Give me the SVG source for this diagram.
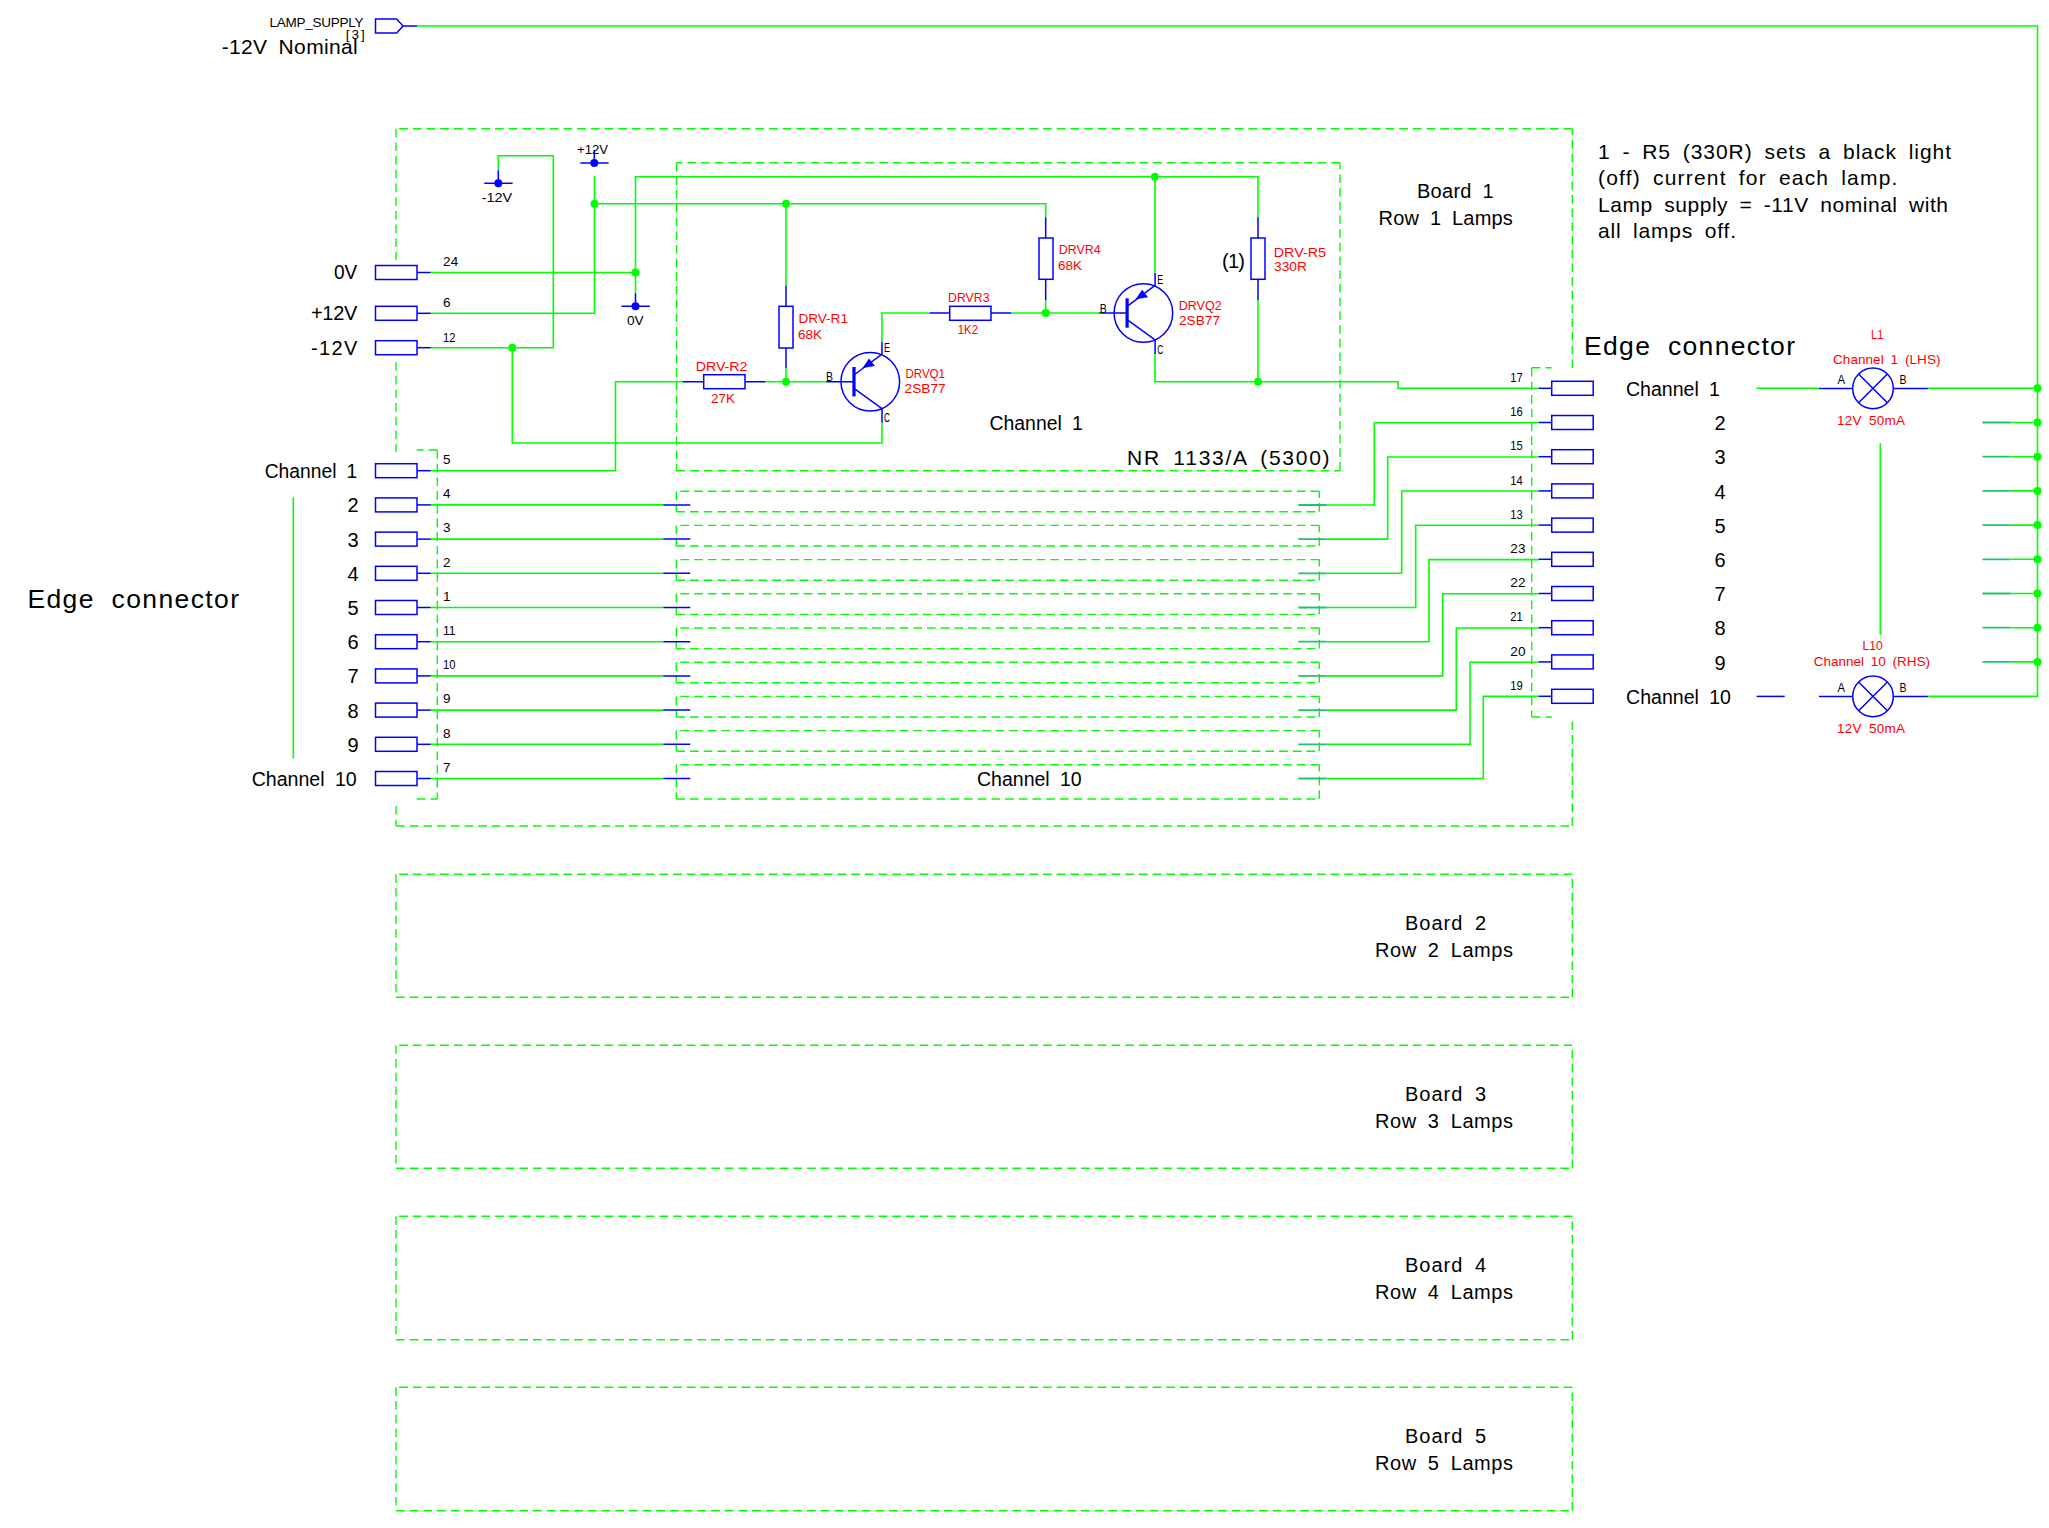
<svg xmlns="http://www.w3.org/2000/svg" width="2049" height="1528" viewBox="0 0 2049 1528">
<style>
text{font-family:"Liberation Sans",Arial,sans-serif;fill:#000}
.k{font-size:20px;word-spacing:5px}
.n{font-size:13.5px}
.r{font-size:13.5px;fill:#f00;word-spacing:3px}
.e{font-size:26.5px;word-spacing:8px}
.d{fill:none;stroke:#0f0;stroke-width:1.4;stroke-dasharray:8.7 5}
.w{fill:none;stroke:#0f0;stroke-width:1.6}
.b{fill:none;stroke:#00f;stroke-width:1.5}
.t{fill:none;stroke:#1fc46c;stroke-width:1.8}
.gd{fill:#0f0}
.bd{fill:#00f}
</style>
<defs>
<g id="pinL"><rect class="b" x="0" y="-7" width="41.5" height="14"/><path class="b" d="M41.5,0H55"/></g>
<g id="pinR"><rect class="b" x="0" y="-7" width="41.5" height="14"/><path class="b" d="M0,0H-13"/></g>
<g id="pnp"><circle class="b" r="29.3"/><path class="b" d="M-16.3,-6.7L11.7,-27.7V-40M-16.3,6.7L11.7,27V41M-44,0H-16.3"/><path d="M-16.3,-14.7V14.7" fill="none" stroke="#00f" stroke-width="3.2"/><polygon class="bd" points="-7.8,-13.7 -1.3,-23.2 4.7,-15.7"/></g>
<g id="lamp"><circle class="b" r="20.3"/><path class="b" d="M-14.4,-14.4L14.4,14.4M-14.4,14.4L14.4,-14.4M-54,0H-20.3M20.3,0H55"/></g>
<g id="rail"><circle class="bd" r="4"/><path class="b" d="M-14,0H14.3M0,0V-13"/></g>
</defs>
<rect width="2049" height="1528" fill="#fff"/>

<g id="frames">
<path class="d" d="M1572.3,128.7H396M396,128.7V260M396,362V452M396,806V826M396,826H1572.3M1572.3,826V717M1572.3,368V128.7"/>
<path class="d" d="M1340,162.7H676.5M676.5,162.7V470.7M676.5,470.7H1340M1340,470.7V162.7"/>
<path class="d" d="M437.3,450H416.7M437.3,450V799M416.7,799H437.3"/>
<path class="d" d="M1531.7,367.7H1551.7M1531.7,367.7V717M1531.7,717H1551.7"/>
<path class="d" d="M1319.3,491.2H676.3M676.3,491.2V511.8M676.3,511.8H1319.3M1319.3,511.8V491.2"/>
<path class="d" d="M1319.3,525.4H676.3M676.3,525.4V546M676.3,546H1319.3M1319.3,546V525.4"/>
<path class="d" d="M1319.3,559.6H676.3M676.3,559.6V580.2M676.3,580.2H1319.3M1319.3,580.2V559.6"/>
<path class="d" d="M1319.3,593.8H676.3M676.3,593.8V614.4M676.3,614.4H1319.3M1319.3,614.4V593.8"/>
<path class="d" d="M1319.3,628H676.3M676.3,628V648.6M676.3,648.6H1319.3M1319.3,648.6V628"/>
<path class="d" d="M1319.3,662.2H676.3M676.3,662.2V682.8M676.3,682.8H1319.3M1319.3,682.8V662.2"/>
<path class="d" d="M1319.3,696.4H676.3M676.3,696.4V717M676.3,717H1319.3M1319.3,717V696.4"/>
<path class="d" d="M1319.3,730.6H676.3M676.3,730.6V751.2M676.3,751.2H1319.3M1319.3,751.2V730.6"/>
<path class="d" d="M1319.3,764.8H676.3M676.3,764.8V799M676.3,799H1319.3M1319.3,799V764.8"/>
</g>

<g id="board2"><path class="d" d="M1572.3,874.3H396M396,874.3V997.3M396,997.3H1572.3M1572.3,997.3V874.3"/>
<text class="k" x="1405" y="930" textLength="81">Board 2</text><text class="k" x="1375" y="957.3" textLength="138">Row 2 Lamps</text></g>
<g id="board3"><path class="d" d="M1572.3,1045.3H396M396,1045.3V1168.3M396,1168.3H1572.3M1572.3,1168.3V1045.3"/>
<text class="k" x="1405" y="1100.7" textLength="81">Board 3</text><text class="k" x="1375" y="1128.3" textLength="138">Row 3 Lamps</text></g>
<g id="board4"><path class="d" d="M1572.3,1216.3H396M396,1216.3V1339.7M396,1339.7H1572.3M1572.3,1339.7V1216.3"/>
<text class="k" x="1405" y="1272" textLength="81">Board 4</text><text class="k" x="1375" y="1299.3" textLength="138">Row 4 Lamps</text></g>
<g id="board5"><path class="d" d="M1572.3,1387.3H396M396,1387.3V1510.7M396,1510.7H1572.3M1572.3,1510.7V1387.3"/>
<text class="k" x="1405" y="1442.7" textLength="81">Board 5</text><text class="k" x="1375" y="1470.3" textLength="138">Row 5 Lamps</text></g>

<g id="connectors">
<path class="w" d="M417,26H2037.5V696.4H1928"/>
<path class="w" d="M430,272.5H635.5M635.5,293.3V176.7H1258V217.3M1258,300V381.7"/>
<path class="w" d="M430,313.3H594.5V175.7M594.5,203.7H1045.7V217.3"/>
<path class="w" d="M430,347.7H553.3V155.7H498.3V170"/>
<path class="w" d="M512.3,347.7V443H882V423"/>
<path class="w" d="M786,203.7V285.7M786,368V381.7"/>
<path class="w" d="M430,470.7H615.5V381.7H683M765.4,381.7H826.5"/>
<path class="w" d="M882,341.7V313H930M1011,313H1100M1045.7,300V313"/>
<path class="w" d="M1155,176.7V272.7M1155,354V381.7H1398V388.3H1538.7"/>
<path class="w" d="M430,504.9H663.3M430,539.1H663.3M430,573.3H663.3M430,607.5H663.3M430,641.7H663.3M430,675.9H663.3M430,710.1H663.3M430,744.3H663.3M430,778.5H663.3"/>
<path class="w" d="M1326.7,505H1374.3V422.7H1538.7"/>
<path class="w" d="M1326.7,539.1H1387.7V457H1538.7"/>
<path class="w" d="M1326.7,573.3H1401.7V491H1538.7"/>
<path class="w" d="M1326.7,607.5H1415.7V525.3H1538.7"/>
<path class="w" d="M1326.7,641.7H1429V559.6H1538.7"/>
<path class="w" d="M1326.7,675.9H1442.7V593.8H1538.7"/>
<path class="w" d="M1326.7,710.1H1456.3V628H1538.7"/>
<path class="w" d="M1326.7,744.3H1470V662.2H1538.7"/>
<path class="w" d="M1326.7,778.5H1483.3V696.4H1538.7"/>
<path class="w" d="M1756.3,388.3H1819M1928,388.3H2037.5"/>
<path class="w" d="M2010.5,422.5H2037.5M2010.5,456.7H2037.5M2010.5,490.9H2037.5M2010.5,525.1H2037.5M2010.5,559.3H2037.5M2010.5,593.5H2037.5M2010.5,627.7H2037.5M2010.5,661.9H2037.5"/>
<path class="t" d="M1982.5,422.5H2010.5M1982.5,456.7H2010.5M1982.5,490.9H2010.5M1982.5,525.1H2010.5M1982.5,559.3H2010.5M1982.5,593.5H2010.5M1982.5,627.7H2010.5M1982.5,661.9H2010.5"/>
<path class="t" d="M1298.3,505H1326.7M1298.3,539.1H1326.7M1298.3,573.3H1326.7M1298.3,607.5H1326.7M1298.3,641.7H1326.7M1298.3,675.9H1326.7M1298.3,710.1H1326.7M1298.3,744.3H1326.7M1298.3,778.5H1326.7"/>
<path class="b" d="M663.3,504.9H690.3M663.3,539.1H690.3M663.3,573.3H690.3M663.3,607.5H690.3M663.3,641.7H690.3M663.3,675.9H690.3M663.3,710.1H690.3M663.3,744.3H690.3M663.3,778.5H690.3"/>
<path class="w" d="M293.3,497.3V758.3M1880.3,443.3V635"/>
<path class="b" d="M1756.6,696.4H1784.7"/>
<g class="gd">
<circle cx="635.5" cy="272.5" r="4"/><circle cx="594.5" cy="203.7" r="4"/><circle cx="512.3" cy="347.7" r="4"/><circle cx="786" cy="203.7" r="4"/><circle cx="1154.8" cy="176.7" r="4"/><circle cx="786" cy="381.7" r="4"/><circle cx="1045.7" cy="313" r="4"/><circle cx="1258" cy="381.7" r="4"/>
<circle cx="2037.5" cy="388.3" r="4"/><circle cx="2037.5" cy="422.5" r="4"/><circle cx="2037.5" cy="456.7" r="4"/><circle cx="2037.5" cy="490.9" r="4"/><circle cx="2037.5" cy="525.1" r="4"/><circle cx="2037.5" cy="559.3" r="4"/><circle cx="2037.5" cy="593.5" r="4"/><circle cx="2037.5" cy="627.7" r="4"/><circle cx="2037.5" cy="661.9" r="4"/>
</g>
</g>

<g id="lamp-supply"><polygon class="b" points="375.5,19 396.7,19 403,26 396.7,33 375.5,33"/><path class="b" d="M403,26H417"/>
<text class="n" x="269.5" y="27.3" textLength="94">LAMP_SUPPLY</text><text class="n" x="345.7" y="39.3" textLength="19">[3]</text>
<text class="k" x="221.7" y="54.3" textLength="136" style="font-size:21px">-12V Nominal</text></g>

<g id="rail-m12"><use href="#rail" x="498.3" y="183.3"/><text class="n" x="481.7" y="202" textLength="30.6" lengthAdjust="spacingAndGlyphs">-12V</text></g>
<g id="rail-p12"><use href="#rail" x="594.3" y="163"/><text class="n" x="577" y="154" textLength="31" lengthAdjust="spacingAndGlyphs">+12V</text></g>
<g id="rail-0v"><use href="#rail" x="635.5" y="306.3"/><text class="n" x="627" y="325" textLength="16.7" lengthAdjust="spacingAndGlyphs">0V</text></g>

<g id="pin-0v"><use href="#pinL" x="375.5" y="272.5"/><text class="k" x="334" y="279.3" textLength="23.3" lengthAdjust="spacingAndGlyphs">0V</text><text class="n" x="443" y="266" textLength="15.3">24</text></g>
<g id="pin-p12"><use href="#pinL" x="375.5" y="313.3"/><text class="k" x="311" y="320.3" textLength="46.3">+12V</text><text class="n" x="443" y="307.3">6</text></g>
<g id="pin-m12"><use href="#pinL" x="375.5" y="347.7"/><text class="k" x="311" y="354.7" textLength="46.3">-12V</text><text class="n" x="443" y="341.7" textLength="12.5" lengthAdjust="spacingAndGlyphs">12</text></g>

<g id="pin-l1"><use href="#pinL" x="375.5" y="470.7"/><text class="k" x="264.7" y="477.7" textLength="92.6" lengthAdjust="spacingAndGlyphs">Channel 1</text><text class="n" x="443" y="464">5</text></g>
<g id="pin-l2"><use href="#pinL" x="375.5" y="504.9"/><text class="k" x="347.5" y="512.3">2</text><text class="n" x="443" y="498.2">4</text></g>
<g id="pin-l3"><use href="#pinL" x="375.5" y="539.1"/><text class="k" x="347.5" y="546.5">3</text><text class="n" x="443" y="532.4">3</text></g>
<g id="pin-l4"><use href="#pinL" x="375.5" y="573.3"/><text class="k" x="347.5" y="580.7">4</text><text class="n" x="443" y="566.6">2</text></g>
<g id="pin-l5"><use href="#pinL" x="375.5" y="607.5"/><text class="k" x="347.5" y="614.9">5</text><text class="n" x="443" y="600.8">1</text></g>
<g id="pin-l6"><use href="#pinL" x="375.5" y="641.7"/><text class="k" x="347.5" y="649.1">6</text><text class="n" x="443" y="635" textLength="12.5" lengthAdjust="spacingAndGlyphs">11</text></g>
<g id="pin-l7"><use href="#pinL" x="375.5" y="675.9"/><text class="k" x="347.5" y="683.3">7</text><text class="n" x="443" y="669.2" textLength="12.5" lengthAdjust="spacingAndGlyphs">10</text></g>
<g id="pin-l8"><use href="#pinL" x="375.5" y="710.1"/><text class="k" x="347.5" y="717.5">8</text><text class="n" x="443" y="703.4">9</text></g>
<g id="pin-l9"><use href="#pinL" x="375.5" y="744.3"/><text class="k" x="347.5" y="751.7">9</text><text class="n" x="443" y="737.6">8</text></g>
<g id="pin-l10"><use href="#pinL" x="375.5" y="778.5"/><text class="k" x="251.7" y="785.7" textLength="105" lengthAdjust="spacingAndGlyphs">Channel 10</text><text class="n" x="443" y="771.8">7</text></g>

<g id="pin-r17"><use href="#pinR" x="1551.7" y="388.3"/><text class="n" x="1510.3" y="382" textLength="12.5" lengthAdjust="spacingAndGlyphs">17</text><text class="k" x="1626" y="396" textLength="94" lengthAdjust="spacingAndGlyphs">Channel 1</text></g>
<g id="pin-r16"><use href="#pinR" x="1551.7" y="422.5"/><text class="n" x="1510.3" y="416.2" textLength="12.5" lengthAdjust="spacingAndGlyphs">16</text><text class="k" x="1714.5" y="430.2">2</text></g>
<g id="pin-r15"><use href="#pinR" x="1551.7" y="456.7"/><text class="n" x="1510.3" y="450.4" textLength="12.5" lengthAdjust="spacingAndGlyphs">15</text><text class="k" x="1714.5" y="464.4">3</text></g>
<g id="pin-r14"><use href="#pinR" x="1551.7" y="490.9"/><text class="n" x="1510.3" y="484.6" textLength="12.5" lengthAdjust="spacingAndGlyphs">14</text><text class="k" x="1714.5" y="498.6">4</text></g>
<g id="pin-r13"><use href="#pinR" x="1551.7" y="525.1"/><text class="n" x="1510.3" y="518.8" textLength="12.5" lengthAdjust="spacingAndGlyphs">13</text><text class="k" x="1714.5" y="532.8">5</text></g>
<g id="pin-r23"><use href="#pinR" x="1551.7" y="559.3"/><text class="n" x="1510.3" y="553" textLength="15.3">23</text><text class="k" x="1714.5" y="567">6</text></g>
<g id="pin-r22"><use href="#pinR" x="1551.7" y="593.5"/><text class="n" x="1510.3" y="587.2" textLength="15.3">22</text><text class="k" x="1714.5" y="601.2">7</text></g>
<g id="pin-r21"><use href="#pinR" x="1551.7" y="627.7"/><text class="n" x="1510.3" y="621.4" textLength="12.5" lengthAdjust="spacingAndGlyphs">21</text><text class="k" x="1714.5" y="635.4">8</text></g>
<g id="pin-r20"><use href="#pinR" x="1551.7" y="661.9"/><text class="n" x="1510.3" y="655.6" textLength="15.3">20</text><text class="k" x="1714.5" y="669.6">9</text></g>
<g id="pin-r19"><use href="#pinR" x="1551.7" y="696.3"/><text class="n" x="1510.3" y="690" textLength="12.5" lengthAdjust="spacingAndGlyphs">19</text><text class="k" x="1626" y="704" textLength="105" lengthAdjust="spacingAndGlyphs">Channel 10</text></g>

<g id="r1"><rect class="b" x="779" y="306.3" width="14" height="41.7"/><path class="b" d="M786,285.7V306.3M786,348V368"/><text class="r" x="798.4" y="323" textLength="49.6" lengthAdjust="spacingAndGlyphs">DRV-R1</text><text class="r" x="798" y="339" textLength="24" lengthAdjust="spacingAndGlyphs">68K</text></g>
<g id="r2"><rect class="b" x="703.7" y="374.7" width="41.3" height="14"/><path class="b" d="M683,381.7H703.7M745,381.7H765.4"/><text class="r" x="695.7" y="371" textLength="51.8" lengthAdjust="spacingAndGlyphs">DRV-R2</text><text class="r" x="711" y="402.7" textLength="24" lengthAdjust="spacingAndGlyphs">27K</text></g>
<g id="r3"><rect class="b" x="949.7" y="306.3" width="41.3" height="14"/><path class="b" d="M930,313H949.7M991,313H1011"/><text class="r" x="948" y="302" textLength="41.5" lengthAdjust="spacingAndGlyphs">DRVR3</text><text class="r" x="957.8" y="334" textLength="20.2" lengthAdjust="spacingAndGlyphs">1K2</text></g>
<g id="r4"><rect class="b" x="1039" y="238" width="14" height="41.3"/><path class="b" d="M1045.7,217.3V238M1045.7,279.3V300"/><text class="r" x="1058.7" y="254.3" textLength="41.9" lengthAdjust="spacingAndGlyphs">DRVR4</text><text class="r" x="1058" y="270.3" textLength="24" lengthAdjust="spacingAndGlyphs">68K</text></g>
<g id="r5"><rect class="b" x="1251" y="238" width="14" height="41.3"/><path class="b" d="M1258,217.3V238M1258,279.3V300"/><text class="r" x="1273.8" y="257" textLength="52.2" lengthAdjust="spacingAndGlyphs">DRV-R5</text><text class="r" x="1274" y="271.3" textLength="33" lengthAdjust="spacingAndGlyphs">330R</text><text class="k" x="1222" y="267.7" textLength="23">(1)</text></g>

<g id="q1"><use href="#pnp" x="870.3" y="381.7"/><text class="n" x="884" y="352.3" textLength="6" lengthAdjust="spacingAndGlyphs">E</text><text class="n" x="884" y="422" textLength="6" lengthAdjust="spacingAndGlyphs">C</text><text class="n" x="826" y="381" textLength="7" lengthAdjust="spacingAndGlyphs">B</text><text class="r" x="905.5" y="378.3" textLength="39.5" lengthAdjust="spacingAndGlyphs">DRVQ1</text><text class="r" x="904.6" y="393" textLength="41.1" lengthAdjust="spacingAndGlyphs">2SB77</text></g>
<g id="q2"><use href="#pnp" x="1143.4" y="313"/><text class="n" x="1157.3" y="284.3" textLength="6" lengthAdjust="spacingAndGlyphs">E</text><text class="n" x="1157.3" y="354" textLength="6" lengthAdjust="spacingAndGlyphs">C</text><text class="n" x="1099.7" y="312.7" textLength="7" lengthAdjust="spacingAndGlyphs">B</text><text class="r" x="1178.8" y="309.7" textLength="42.8" lengthAdjust="spacingAndGlyphs">DRVQ2</text><text class="r" x="1179" y="325.3" textLength="41" lengthAdjust="spacingAndGlyphs">2SB77</text></g>

<g id="l1"><use href="#lamp" x="1873" y="388.4"/><text class="r" x="1871" y="339" textLength="12.4" lengthAdjust="spacingAndGlyphs">L1</text><text class="r" x="1833" y="363.7" textLength="107.5">Channel 1 (LHS)</text><text class="n" x="1837.5" y="383.7" textLength="7.5" lengthAdjust="spacingAndGlyphs">A</text><text class="n" x="1899.5" y="383.7" textLength="7" lengthAdjust="spacingAndGlyphs">B</text><text class="r" x="1837" y="425.3" textLength="68">12V 50mA</text></g>
<g id="l10"><use href="#lamp" x="1873" y="696.4"/><text class="r" x="1862.4" y="650" textLength="20.3" lengthAdjust="spacingAndGlyphs">L10</text><text class="r" x="1813.7" y="666.3" textLength="116.3">Channel 10 (RHS)</text><text class="n" x="1837.5" y="691.7" textLength="7.5" lengthAdjust="spacingAndGlyphs">A</text><text class="n" x="1899.5" y="691.7" textLength="7" lengthAdjust="spacingAndGlyphs">B</text><text class="r" x="1837" y="733.3" textLength="68">12V 50mA</text></g>

<g id="labels">
<text class="e" x="27.4" y="607.7" textLength="211.6">Edge connector</text>
<text class="e" x="1584" y="355" textLength="211">Edge connector</text>
<text class="k" x="989.5" y="430.3" textLength="93.3" lengthAdjust="spacingAndGlyphs">Channel 1</text>
<text class="k" x="977" y="786" textLength="104.7" lengthAdjust="spacingAndGlyphs">Channel 10</text>
<text class="k" x="1127" y="465" textLength="202.6" style="font-size:21px">NR 1133/A (5300)</text>
<text class="k" x="1417" y="198.3" textLength="76.7">Board 1</text>
<text class="k" x="1378.6" y="225.3" textLength="134.2">Row 1 Lamps</text>
<text class="k" x="1598" y="158.7" textLength="353" style="font-size:21px">1 - R5 (330R) sets a black light</text>
<text class="k" x="1598" y="185" textLength="299.4" style="font-size:21px">(off) current for each lamp.</text>
<text class="k" x="1598" y="211.7" textLength="350" style="font-size:21px">Lamp supply = -11V nominal with</text>
<text class="k" x="1598" y="237.7" textLength="138" style="font-size:21px">all lamps off.</text>
</g>
</svg>
